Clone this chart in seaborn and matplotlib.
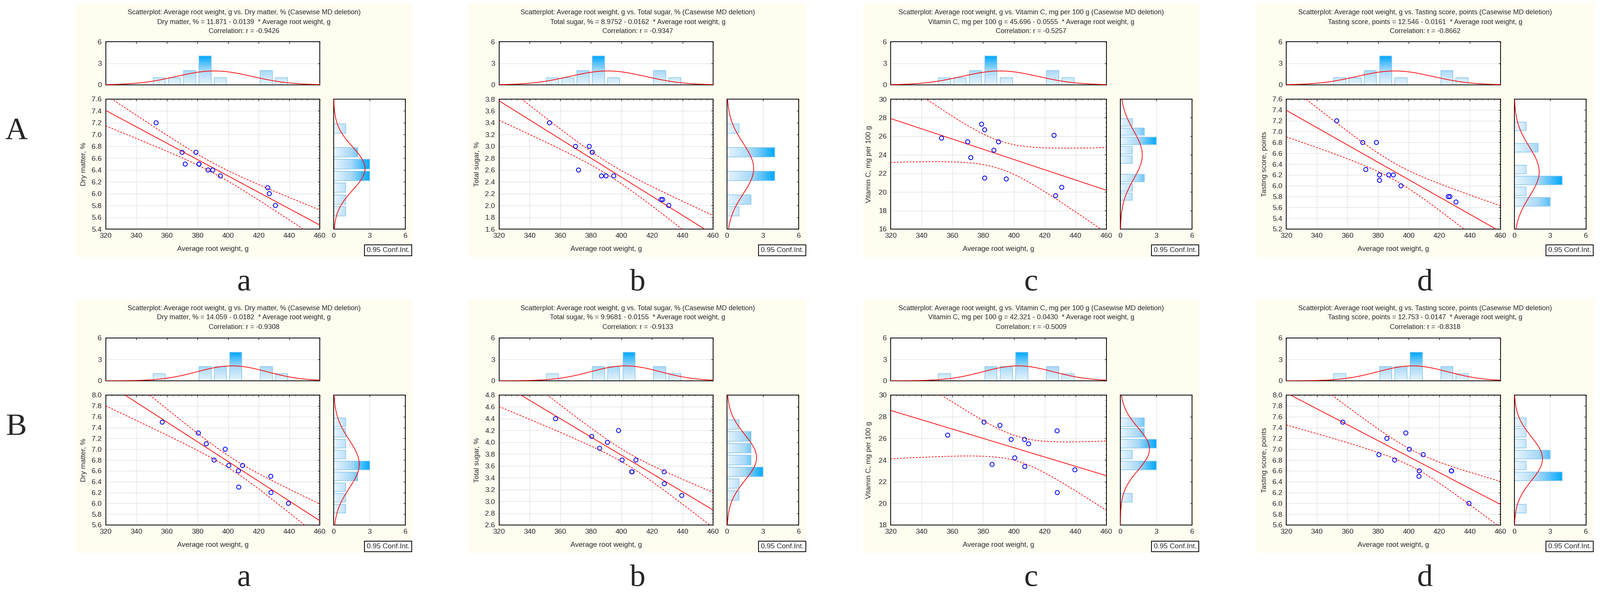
import numpy as np
import matplotlib
matplotlib.use('Agg')
import matplotlib.pyplot as plt
import seaborn as sns
from matplotlib.colors import LinearSegmentedColormap
from matplotlib.patches import Rectangle
from matplotlib.ticker import AutoMinorLocator, MultipleLocator, FormatStrFormatter

# ---- data ----
weight_A = [353, 370, 372, 379, 381, 381, 387, 390, 395, 426, 427, 431]
dry_A = [7.2, 6.7, 6.5, 6.7, 6.5, 6.5, 6.4, 6.4, 6.3, 6.1, 6.0, 5.8]
sugar_A = [3.4, 3.0, 2.6, 3.0, 2.9, 2.9, 2.5, 2.5, 2.5, 2.1, 2.1, 2.0]
vitc_A = [25.8, 25.4, 23.7, 27.3, 26.7, 21.5, 24.5, 25.4, 21.4, 26.1, 19.6, 20.5]
taste_A = [7.2, 6.8, 6.3, 6.8, 6.2, 6.1, 6.2, 6.2, 6.0, 5.8, 5.8, 5.7]

weight_B = [357, 380.6, 385.8, 390.9, 398.2, 400.5, 406.8, 407, 409.5, 428, 428.1, 439.5]
dry_B = [7.5, 7.3, 7.1, 6.8, 7.0, 6.7, 6.6, 6.3, 6.7, 6.5, 6.2, 6.0]
sugar_B = [4.4, 4.1, 3.9, 4.0, 4.2, 3.7, 3.5, 3.5, 3.7, 3.5, 3.3, 3.1]
vitc_B = [26.3, 27.5, 23.6, 27.2, 25.9, 24.2, 25.9, 23.4, 25.5, 26.7, 21.0, 23.1]
taste_B = [7.5, 6.9, 7.2, 6.8, 7.3, 7.0, 6.5, 6.6, 6.9, 6.6, 6.6, 6.0]

traits = ['Dry matter, %', 'Total sugar, %', 'Vitamin C, mg per 100 g', 'Tasting score, points']
intercept_A = ['11.871', '8.9752', '45.696', '12.546']
slope_A = ['0.0139', '0.0162', '0.0555', '0.0161']
corr_A = ['-0.9426', '-0.9347', '-0.5257', '-0.8662']
intercept_B = ['14.059', '9.9681', '42.321', '12.753']
slope_B = ['0.0182', '0.0155', '0.0430', '0.0147']
corr_B = ['-0.9308', '-0.9133', '-0.5009', '-0.8318']

ylim_A = [(5.4, 7.6), (1.6, 3.8), (16, 30), (5.2, 7.6)]
ylim_B = [(5.6, 8.0), (2.6, 4.8), (18, 30), (5.6, 8.0)]
ystep = [0.2, 0.2, 2, 0.2]
ybin = [0.2, 0.2, 1, 0.2]
panel_letters = ['a', 'b', 'c', 'd']
row_names = ['A', 'B']

# ---- style ----
sns.set_style('white')
plt.rcParams['font.family'] = ['Liberation Sans', 'DejaVu Sans']
plt.rcParams['axes.linewidth'] = 0.5

CREAM = '#FFFCF0'
BLUE_CMAP = LinearSegmentedColormap.from_list('stat', ['#E8F5FF', '#A8D8F7', '#00A9FF'])
BAR_EDGE = '#8CC6EC'
RED = '#FF0000'
GRID = '#E3E3E3'
FS = 4.6

W, H = 4263, 1579
DPI = 300
fig = plt.figure(figsize=(W / DPI, H / DPI), dpi=DPI)
fig.patch.set_facecolor('white')


def box(l, t, r, b):
    return [l / W, 1 - b / H, (r - l) / W, (b - t) / H]


# pixel layout of the two rows and four columns
row_lay = [
    dict(title=(33, 59, 83), hist=(111, 226), main=(264, 610), box=(652, 681),
         letter=773, cream=(10, 684), rlabel=350),
    dict(title=(821, 846, 871), hist=(900, 1014), main=(1052, 1398), box=(1441, 1469),
         letter=1560, cream=(798, 1472), rlabel=1138),
]
main_left = [281.5, 1329.5, 2373, 3427]
main_w = [570.5, 570.5, 575, 570.5]
cream_x = [(202, 1098), (1250, 2148), (2300, 3195), (3348, 4246)]


def gradient_bars(ax, horizontal):
    bars = [p for p in ax.patches if (p.get_width() if horizontal else p.get_height()) > 0]
    vmax = max((p.get_width() if horizontal else p.get_height()) for p in bars)
    for p in ax.patches:
        x0, y0, w, h = p.get_x(), p.get_y(), p.get_width(), p.get_height()
        size = w if horizontal else h
        if size <= 0:
            p.set_visible(False)
            continue
        if horizontal:
            grad = np.linspace(0, size / vmax, 128)[None, :]
        else:
            grad = np.linspace(0, size / vmax, 128)[:, None]
        ax.imshow(grad, cmap=BLUE_CMAP, vmin=0, vmax=1, extent=[x0, x0 + w, y0, y0 + h],
                  origin='lower', aspect='auto', interpolation='bilinear', zorder=1)
        p.set_facecolor('none')
        p.set_edgecolor(BAR_EDGE)
        p.set_linewidth(0.4)
        p.set_zorder(2)


def normal_curve(v, grid, bw):
    v = np.asarray(v, dtype=float)
    m, s = v.mean(), v.std(ddof=1)
    return len(v) * bw * np.exp(-0.5 * ((grid - m) / s) ** 2) / (s * np.sqrt(2 * np.pi))


def style_ticks(ax):
    ax.tick_params(which='major', direction='in', length=1.3, width=0.35, top=True, right=True,
                   labelsize=FS, pad=2.5, color='black')
    ax.tick_params(which='minor', direction='in', length=0.7, width=0.3, top=True, right=True)
    for sp in ax.spines.values():
        sp.set_linewidth(0.5)
        sp.set_color('black')


weights = [weight_A, weight_B]
values = [[dry_A, sugar_A, vitc_A, taste_A], [dry_B, sugar_B, vitc_B, taste_B]]
ylims = [ylim_A, ylim_B]
eqs = [(intercept_A, slope_A, corr_A), (intercept_B, slope_B, corr_B)]

for r in range(2):
    lay = row_lay[r]
    x = np.array(weights[r], dtype=float)
    fig.text(43 / W, 1 - lay['rlabel'] / H, row_names[r], ha='center', va='center',
             fontsize=20, family=['Liberation Serif', 'DejaVu Serif'])
    for c in range(4):
        y = np.array(values[r][c], dtype=float)
        ylo, yhi = ylims[r][c]
        ml, mw = main_left[c], main_w[c]
        cl, cr = cream_x[c]
        ct, cb = lay['cream']
        fig.add_artist(Rectangle((cl / W, 1 - cb / H), (cr - cl) / W, (cb - ct) / H,
                                 transform=fig.transFigure, facecolor=CREAM,
                                 edgecolor='none', zorder=-1))

        # titles
        inter, slope, corr = eqs[r][0][c], eqs[r][1][c], eqs[r][2][c]
        lines = [f'Scatterplot: Average root weight, g vs. {traits[c]} (Casewise MD deletion)',
                 f'{traits[c]} = {inter} - {slope}  * Average root weight, g',
                 f'Correlation: r = {corr}']
        cx = (cl + cr) / 2
        for ty, line in zip(lay['title'], lines):
            fig.text(cx / W, 1 - ty / H, line, ha='center', va='center', fontsize=4.4)

        # top histogram
        ht, hb = lay['hist']
        ax_t = fig.add_axes(box(ml, ht, ml + mw, hb))
        ax_t.set_facecolor('white')
        edges_x = np.arange(320, 461, 10) + 0.01
        sns.histplot(x=x, bins=edges_x, shrink=0.8, ax=ax_t, color='#A8D8F7')
        gradient_bars(ax_t, horizontal=False)
        gx = np.linspace(320, 460, 300)
        ax_t.plot(gx, normal_curve(x, gx, 10), color=RED, lw=0.45, zorder=3)
        ax_t.set_xlim(320, 460)
        ax_t.set_ylim(0, 6)
        ax_t.set_yticks([0, 3, 6])
        ax_t.xaxis.set_major_locator(MultipleLocator(20))
        ax_t.set(xlabel='', ylabel='')
        style_ticks(ax_t)
        ax_t.tick_params(labelbottom=False)
        ax_t.grid(True, axis='y', color=GRID, lw=0.35)
        ax_t.set_axisbelow(True)

        # main scatter
        mt, mb = lay['main']
        ax_m = fig.add_axes(box(ml, mt, ml + mw, mb))
        ax_m.set_facecolor('white')
        ax_m.set_xlim(320, 460)
        ax_m.set_ylim(ylo, yhi)
        sns.regplot(x=x, y=y, ax=ax_m, ci=None, truncate=False, color='#0000FF',
                    scatter_kws=dict(facecolors='none', edgecolors='#0000FF', s=7,
                                     linewidths=0.5, alpha=1, zorder=4),
                    line_kws=dict(color=RED, lw=0.45, zorder=3))
        b1, b0 = np.polyfit(x, y, 1)
        n = len(x)
        xm = x.mean()
        sxx = ((x - xm) ** 2).sum()
        s_err = np.sqrt(((y - (b0 + b1 * x)) ** 2).sum() / (n - 2))
        gx = np.linspace(320, 460, 300)
        fit = b0 + b1 * gx
        half = 2.228 * s_err * np.sqrt(1 / n + (gx - xm) ** 2 / sxx)
        for band in (fit - half, fit + half):
            ax_m.plot(gx, band, color=RED, lw=0.45, ls=(0, (2.5, 2)), zorder=3)
        ax_m.set_xlim(320, 460)
        ax_m.set_ylim(ylo, yhi)
        ax_m.xaxis.set_major_locator(MultipleLocator(20))
        ax_m.xaxis.set_minor_locator(AutoMinorLocator(5))
        ax_m.yaxis.set_major_locator(MultipleLocator(ystep[c]))
        ax_m.yaxis.set_minor_locator(AutoMinorLocator(4))
        ax_m.yaxis.set_major_formatter(FormatStrFormatter('%.1f' if ystep[c] < 1 else '%d'))
        style_ticks(ax_m)
        ax_m.grid(True, which='major', color=GRID, lw=0.35)
        ax_m.set_axisbelow(True)
        ax_m.set_xlabel('Average root weight, g', fontsize=FS)
        ax_m.set_ylabel(traits[c], fontsize=FS)
        ax_m.xaxis.set_label_coords(0.5, -45 / (mb - mt))
        ax_m.yaxis.set_label_coords(-49 / mw, 0.5)

        # right histogram
        rl = ml + mw + 37
        ax_r = fig.add_axes(box(rl, mt, rl + 191, mb))
        ax_r.set_facecolor('white')
        bw = ybin[c]
        edges_y = np.arange(ylo, yhi + bw / 2, bw) + bw * 0.001
        sns.histplot(y=y, bins=edges_y, shrink=0.8, ax=ax_r, color='#A8D8F7')
        gradient_bars(ax_r, horizontal=True)
        gy = np.linspace(ylo, yhi, 300)
        ax_r.plot(normal_curve(y, gy, bw), gy, color=RED, lw=0.45, zorder=3)
        ax_r.set_xlim(0, 6)
        ax_r.set_ylim(ylo, yhi)
        ax_r.set_xticks([0, 3, 6])
        ax_r.yaxis.set_major_locator(MultipleLocator(ystep[c]))
        ax_r.set(xlabel='', ylabel='')
        style_ticks(ax_r)
        ax_r.tick_params(labelleft=False)
        ax_r.grid(True, axis='x', color=GRID, lw=0.35)
        ax_r.set_axisbelow(True)

        # conf. int. box
        bt, bb = lay['box']
        fig.add_artist(Rectangle(((cr - 127) / W, 1 - bb / H), 126 / W, (bb - bt) / H,
                                 transform=fig.transFigure, facecolor='white',
                                 edgecolor='black', lw=0.5, zorder=2))
        fig.text((cr - 64) / W, 1 - (bt + bb) / 2 / H, '0.95 Conf.Int.', ha='center',
                 va='center', fontsize=FS, zorder=3)

        # panel letter
        fig.text(cx / W, 1 - lay['letter'] / H, panel_letters[c], ha='center', va='baseline',
                 fontsize=20, family=['Liberation Serif', 'DejaVu Serif'])

fig.savefig('out.png', dpi=DPI, facecolor='white')
